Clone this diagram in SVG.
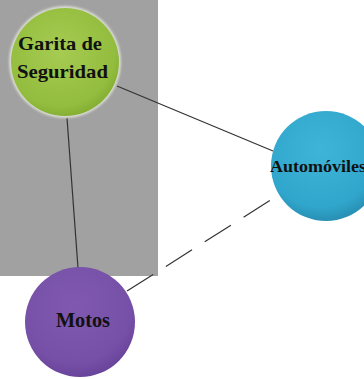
<svg xmlns="http://www.w3.org/2000/svg" width="364" height="379" viewBox="0 0 364 379">
<defs>
<radialGradient id="gG" cx="0.45" cy="0.4" r="0.6">
<stop offset="0" stop-color="#a6cc52"/>
<stop offset="0.85" stop-color="#93bd3e"/>
<stop offset="1" stop-color="#86b034"/>
</radialGradient>
<radialGradient id="gB" cx="0.45" cy="0.35" r="0.65">
<stop offset="0" stop-color="#3eb5d8"/>
<stop offset="0.8" stop-color="#31a6cc"/>
<stop offset="1" stop-color="#2890b4"/>
</radialGradient>
<radialGradient id="gP" cx="0.45" cy="0.35" r="0.65">
<stop offset="0" stop-color="#8058b0"/>
<stop offset="0.8" stop-color="#7650a6"/>
<stop offset="1" stop-color="#68449a"/>
</radialGradient>
<filter id="soft" x="-10%" y="-10%" width="120%" height="120%">
<feGaussianBlur stdDeviation="0.8"/>
</filter>
</defs>
<style>
.lbl{font-family:"Liberation Serif",serif;font-weight:bold;fill:#111;}
.con{stroke:#333;stroke-width:1.2;fill:none;}
</style>
<rect x="0" y="0" width="158" height="276" fill="#a1a1a1"/>
<g id="connectors">
<line class="con" x1="117" y1="86" x2="273" y2="151"/>
<line class="con" x1="67" y1="118" x2="78" y2="268"/>
<line class="con" x1="127" y1="291" x2="277" y2="196" stroke-dasharray="31 15"/>
</g>
<g id="garita">
<circle cx="65" cy="62" r="56" fill="#e8eadf" opacity="0.8" filter="url(#soft)"/>
<circle cx="65" cy="62" r="54" fill="url(#gG)"/>
<text class="lbl" x="18" y="50" font-size="19" textLength="84" lengthAdjust="spacingAndGlyphs">Garita de</text>
<text class="lbl" x="17" y="78" font-size="19" textLength="91" lengthAdjust="spacingAndGlyphs">Seguridad</text>
</g>
<g id="automoviles">
<circle cx="326" cy="166" r="55" fill="url(#gB)"/>
<text class="lbl" x="270" y="172" font-size="16" textLength="96" lengthAdjust="spacingAndGlyphs">Automóviles</text>
</g>
<g id="motos">
<circle cx="80" cy="322" r="55" fill="url(#gP)"/>
<text class="lbl" x="56" y="327" font-size="21" textLength="54" lengthAdjust="spacingAndGlyphs">Motos</text>
</g>
</svg>
